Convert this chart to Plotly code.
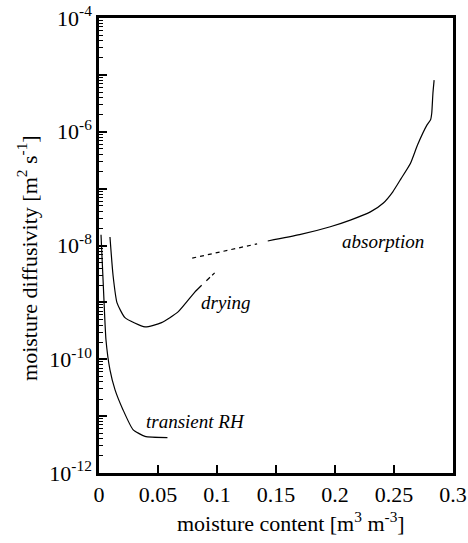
import math
import plotly.graph_objects as go

# absorption (solid and dashed extension)
abs_x = [0.143, 0.170, 0.196, 0.213, 0.230, 0.241, 0.249, 0.256, 0.264, 0.270, 0.278, 0.281, 0.282, 0.283, 0.284]
abs_d = [1.2e-8, 1.55e-8, 2.14e-8, 2.8e-8, 3.9e-8, 5.6e-8, 8.8e-8, 1.5e-7, 2.8e-7, 5.9e-7,
         1.32e-6, 1.62e-6, 2.14e-6, 4.8e-6, 8.1e-6]
abs_dash_x = [0.079, 0.134]
abs_dash_d = [6.0e-9, 1.07e-8]

# drying
dry_x = [0.0093, 0.0119, 0.0153, 0.022, 0.039, 0.053, 0.067, 0.081, 0.087]
dry_d = [1.41e-8, 3.0e-9, 9.8e-10, 5.4e-10, 3.7e-10, 4.4e-10, 6.8e-10, 1.5e-9, 2.0e-9]
dry_dash_x = [0.091, 0.098]
dry_dash_d = [2.4e-9, 3.3e-9]

# transient RH
tr_x = [0.0017, 0.0042, 0.0059, 0.0093, 0.0136, 0.0203, 0.0288, 0.039, 0.058]
tr_d = [1.55e-8, 1.1e-9, 2.2e-10, 6.5e-11, 2.9e-11, 1.3e-11, 5.8e-12, 4.4e-12, 4.2e-12]

x_ticks = [0, 0.05, 0.1, 0.15, 0.2, 0.25, 0.3]
x_labels = ["0", "0.05", "0.1", "0.15", "0.2", "0.25", "0.3"]
y_exps = [-12, -11, -10, -9, -8, -7, -6, -5, -4]

labels = [("absorption", 0.241, 1.2e-8), ("drying", 0.108, 1.0e-9), ("transient RH", 0.082, 7.9e-12)]
x_title = "moisture content [m<sup>3</sup> m<sup>-3</sup>]"
y_title = "moisture diffusivity [m<sup>2</sup> s<sup>-1</sup>]"

SERIF = "Liberation Serif"
line = dict(color="black", width=1.2, shape="spline", smoothing=0.5)

fig = go.Figure()
fig.add_trace(go.Scatter(x=abs_x, y=abs_d, mode="lines", line=line))
fig.add_trace(go.Scatter(x=abs_dash_x, y=abs_dash_d, mode="lines",
                         line=dict(color="black", width=1.2, dash="4px,4px")))
fig.add_trace(go.Scatter(x=dry_x, y=dry_d, mode="lines", line=line))
fig.add_trace(go.Scatter(x=dry_dash_x, y=dry_dash_d, mode="lines",
                         line=dict(color="black", width=1.2, dash="5px,3px")))
fig.add_trace(go.Scatter(x=tr_x, y=tr_d, mode="lines", line=line))

yvals = [10.0 ** e for e in y_exps]
ytext = [("10<sup>%d</sup>" % e) if e % 2 == 0 else "" for e in y_exps]
minor_vals = [k * 10.0 ** e for e in y_exps[:-1] for k in range(2, 10)]

for text, x, y in labels:
    fig.add_annotation(x=x, y=math.log10(y), text=text, showarrow=False,
                       font=dict(family=SERIF, size=19, color="black", style="italic"))

# axis titles placed as annotations (plot area spans 99..453 px horizontally, 18..473 px vertically)
fig.add_annotation(text=x_title, xref="paper", yref="paper", x=0.542, y=-0.108,
                   showarrow=False, xanchor="center", yanchor="middle",
                   font=dict(family=SERIF, size=22, color="black"))
fig.add_annotation(text=y_title, xref="paper", yref="paper", x=-0.203, y=0.473,
                   showarrow=False, xanchor="center", yanchor="middle", textangle=-90,
                   font=dict(family=SERIF, size=22, color="black"))

fig.update_layout(
    width=468, height=543,
    margin=dict(l=99, r=15, t=18, b=70),
    paper_bgcolor="white", plot_bgcolor="white",
    showlegend=False,
    font=dict(family=SERIF, size=22, color="black"),
    xaxis=dict(range=[0, 0.3], tickvals=x_ticks, ticktext=x_labels,
               ticks="inside", ticklen=8, tickwidth=1.5, tickcolor="black",
               showline=True, linecolor="black", linewidth=2.5, mirror=True,
               showgrid=False, zeroline=False, automargin=False,
               tickfont=dict(family=SERIF, size=22)),
    yaxis=dict(type="log", range=[-12, -4], tickvals=yvals, ticktext=ytext,
               ticks="inside", ticklen=8, tickwidth=1.5, tickcolor="black",
               minor=dict(tickvals=minor_vals, ticks="inside", ticklen=4, tickwidth=1.2,
                          tickcolor="black", showgrid=False),
               showline=True, linecolor="black", linewidth=2.5, mirror=True,
               showgrid=False, zeroline=False, automargin=False,
               tickfont=dict(family=SERIF, size=22)),
)

fig.write_html("out.html")
